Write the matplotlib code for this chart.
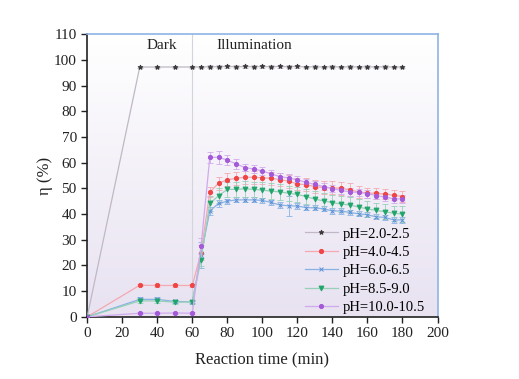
import numpy as np
import matplotlib
matplotlib.use("Agg")
import matplotlib.pyplot as plt
from matplotlib.colors import LinearSegmentedColormap

plt.rcParams['font.family'] = ['Liberation Serif', 'DejaVu Serif']

time = [0, 30, 40, 50, 60] + list(range(65, 185, 5))

ph_2 = [0, 97.2, 97.2, 97.2, 97.2, 97.2, 97.3, 97.3, 97.4, 97.3, 97.4, 97.3, 97.4, 97.3,
        97.4, 97.3, 97.4, 97.2, 97.3, 97.2, 97.3, 97.2, 97.3, 97.2, 97.3, 97.2, 97.3, 97.2, 97.2]
ph_4 = [0, 12.3, 12.2, 12.2, 12.2, 25.0, 48.5, 52.0, 53.3, 53.9, 54.3, 54.3, 54.1, 53.9,
        53.4, 52.8, 51.7, 51.4, 50.7, 50.3, 50.2, 50.0, 49.4, 48.6, 48.2, 48.0, 47.8, 47.3, 46.8]
ph_6 = [0, 6.8, 6.8, 6.0, 5.8, 24.0, 41.2, 44.1, 45.0, 45.5, 45.5, 45.5, 45.3, 44.5,
        43.5, 43.2, 43.1, 42.5, 42.4, 42.0, 41.2, 41.2, 40.6, 40.1, 39.7, 38.9, 38.7, 37.7, 37.7]
ph_85 = [0, 6.2, 6.2, 5.7, 5.8, 22.3, 44.1, 47.1, 49.6, 49.6, 49.8, 49.6, 49.3, 48.9,
         48.6, 48.1, 47.6, 46.8, 45.8, 45.1, 44.4, 43.9, 43.5, 42.7, 42.0, 41.4, 40.9, 40.3, 40.0]
ph_10 = [0, 1.4, 1.4, 1.5, 1.4, 27.5, 62.0, 62.1, 61.0, 59.5, 58.1, 57.5, 56.8, 55.6,
         54.6, 54.0, 53.3, 52.3, 51.5, 50.7, 49.9, 49.2, 48.6, 48.4, 47.9, 47.2, 46.6, 45.9, 45.9]

err_2 = [0, 0.3, 0.3, 0.3, 0.3, 0.5, 0.5, 0.5, 0.5, 0.5, 0.5, 0.5, 0.5, 0.5,
         0.5, 0.5, 0.5, 0.5, 0.5, 0.5, 0.5, 0.5, 0.5, 0.5, 0.5, 0.5, 0.5, 0.5, 0.5]
err_4 = [0, 0.4, 0.4, 0.4, 0.4, 3.0, 2.0, 2.5, 2.5, 2.5, 2.5, 2.5, 2.5, 2.5,
         2.5, 2.5, 2.5, 2.5, 2.5, 2.5, 2.5, 2.5, 2.5, 2.5, 2.0, 2.0, 2.0, 2.0, 2.0]
err_6 = [0, 0.8, 0.8, 0.5, 0.5, 5.0, 1.5, 1.5, 1.0, 1.0, 1.0, 1.0, 1.0, 1.0,
         1.0, 4.0, 1.0, 1.0, 1.0, 1.0, 1.0, 1.0, 1.0, 1.0, 1.0, 1.0, 1.0, 1.0, 1.0]
err_85 = [0, 1.0, 1.0, 0.8, 0.8, 2.5, 3.0, 3.0, 3.0, 3.0, 3.0, 3.0, 3.0, 3.0,
          3.0, 3.0, 3.0, 3.0, 3.0, 3.0, 3.0, 3.0, 3.0, 3.0, 3.0, 3.0, 3.0, 3.0, 3.0]
err_10 = [0, 0.3, 0.3, 0.3, 0.3, 3.0, 2.0, 2.5, 2.0, 2.0, 1.5, 1.5, 1.5, 1.5,
          1.5, 1.5, 1.5, 1.5, 1.5, 1.5, 1.5, 1.5, 1.5, 1.5, 1.5, 1.5, 1.5, 1.5, 1.5]

labels = ["pH=2.0-2.5", "pH=4.0-4.5", "pH=6.0-6.5", "pH=8.5-9.0", "pH=10.0-10.5"]
series = [ph_2, ph_4, ph_6, ph_85, ph_10]
errors = [err_2, err_4, err_6, err_85, err_10]
colors = ["#3a3a3a", "#f04545", "#5b8fd8", "#1fa56a", "#a45ad8"]
line_colors = ["#c0b8c4", "#f4a8b0", "#88b2e2", "#96d0b8", "#d0aaec"]
markers = ["*", "o", "x", "v", "o"]
msizes = [3.5, 3, 3, 3.5, 3]

fig = plt.figure(figsize=(5.19, 3.79), dpi=100)
ax = fig.add_axes([0.168, 0.164, 0.675, 0.746])

# gradient background
cmap = LinearSegmentedColormap.from_list("bg", ["#ffffff", "#e8e2f1"])
grad = np.linspace(0, 1, 256).reshape(-1, 1)
ax.imshow(grad, extent=[0, 200, 0, 110], aspect="auto", cmap=cmap, origin="upper", zorder=0)

ax.axvline(60, color="#d4d4dc", lw=0.8, zorder=1)

for y, e, lab, c, lc, m, ms in zip(series, errors, labels, colors, line_colors, markers, msizes):
    ax.errorbar(time, y, yerr=e, fmt="none", ecolor=lc, elinewidth=0.7, capsize=2.5,
                capthick=0.7, alpha=0.85, zorder=2)
    ax.plot(time, y, color=lc, lw=0.9, marker=m, markersize=ms, markerfacecolor=c,
            markeredgecolor=c, markeredgewidth=0.7, label=lab, zorder=3)

ax.set_xlim(0, 200)
ax.set_ylim(0, 110)
ax.set_xticks(range(0, 201, 20))
ax.set_yticks(range(0, 111, 10))
ax.tick_params(axis="both", direction="out", length=4, width=1, labelsize=11, colors="#222222")
ax.tick_params(top=False, right=False)

for s in ["left", "bottom"]:
    ax.spines[s].set_color("#222222")
    ax.spines[s].set_linewidth(1.2)
for s in ["top", "right"]:
    ax.spines[s].set_color("#8db4e6")
    ax.spines[s].set_linewidth(1.2)

ax.set_xlabel("Reaction time (min)", fontsize=12, color="#222222", labelpad=9)
ax.set_ylabel("η (%)", fontsize=12, color="#222222", labelpad=1)

ax.text(42.5, 105.5, "Dark", fontsize=11, ha="center", va="center", color="#222222")
ax.text(95.5, 105.5, "Illumination", fontsize=11, ha="center", va="center", color="#222222")

leg = ax.legend(loc="lower right", frameon=False, fontsize=10.5, handlelength=2.3,
                labelspacing=0.36, borderaxespad=0.0, handletextpad=0.3,
                bbox_to_anchor=(0.98, -0.012))

fig.savefig("out.png", dpi=100)
